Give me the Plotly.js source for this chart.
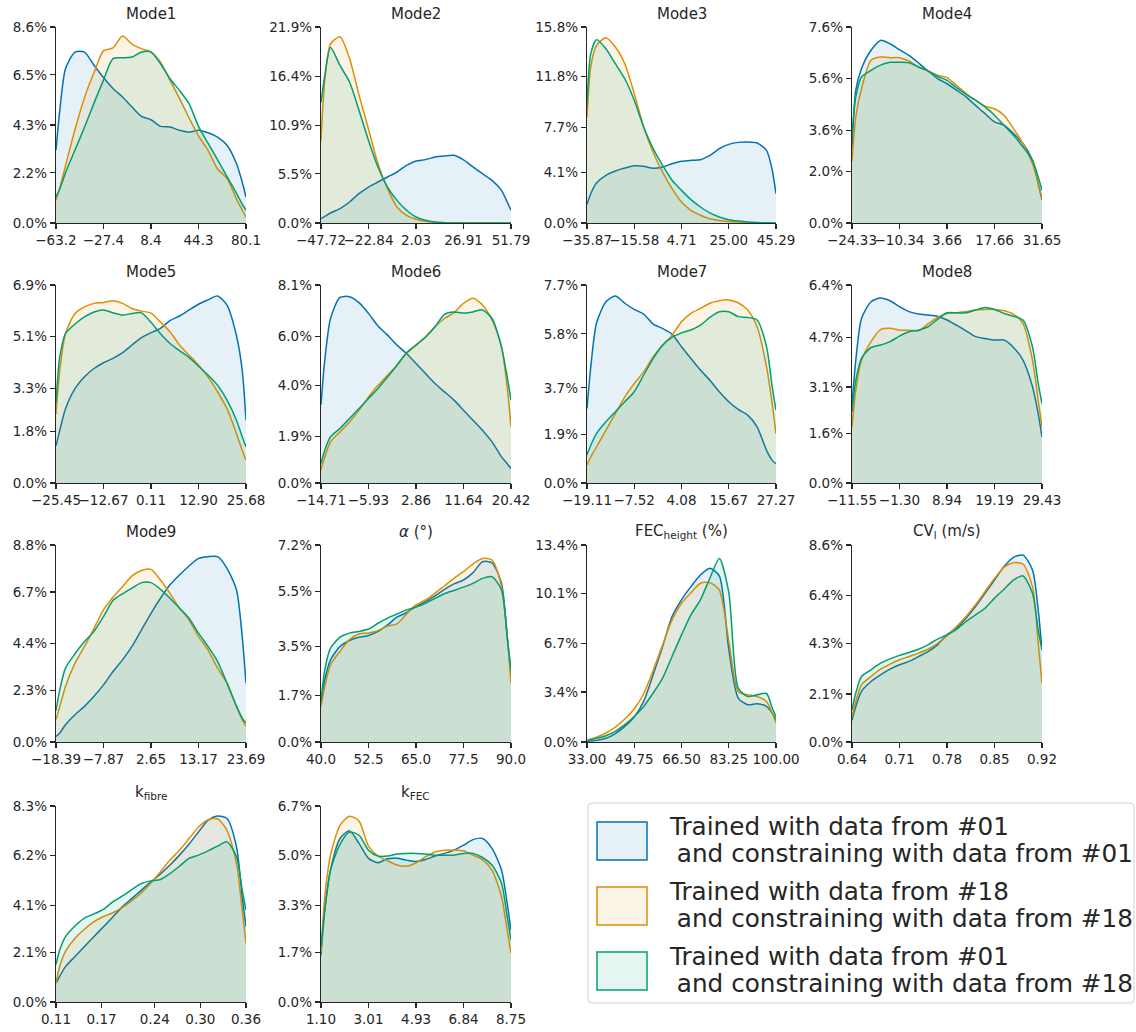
<!DOCTYPE html>
<html><head><meta charset="utf-8">
<script src="https://cdn.plot.ly/plotly-3.0.1.min.js"></script>
<style>html,body{margin:0;padding:0;background:#fff}#chart{width:1136px;height:1032px}</style>
</head><body><div id="chart"></div>
<script>
// ---------------- DATA ----------------
const panelTitles = ['Mode1','Mode2','Mode3','Mode4','Mode5','Mode6','Mode7','Mode8','Mode9',
  '<i>α</i> (°)','FEC<sub>height</sub> (%)','CV<sub>l</sub> (m/s)','k<sub>fibre</sub>','k<sub>FEC</sub>'];

const seriesNames = ['Trained with data from #01', 'Trained with data from #18', 'Trained with data from #01'];
const seriesNames2 = ['and constraining with data from #01', 'and constraining with data from #18', 'and constraining with data from #18'];

const xTickLabels = [
  ['−63.2','−27.4','8.4','44.3','80.1'],
  ['−47.72','−22.84','2.03','26.91','51.79'],
  ['−35.87','−15.58','4.71','25.00','45.29'],
  ['−24.33','−10.34','3.66','17.66','31.65'],
  ['−25.45','−12.67','0.11','12.90','25.68'],
  ['−14.71','−5.93','2.86','11.64','20.42'],
  ['−19.11','−7.52','4.08','15.67','27.27'],
  ['−11.55','−1.30','8.94','19.19','29.43'],
  ['−18.39','−7.87','2.65','13.17','23.69'],
  ['40.0','52.5','65.0','77.5','90.0'],
  ['33.00','49.75','66.50','83.25','100.00'],
  ['0.64','0.71','0.78','0.85','0.92'],
  ['0.11','0.17','0.24','0.30','0.36'],
  ['1.10','3.01','4.93','6.84','8.75']
];

const yTickValues = [
  [0,2.2,4.3,6.5,8.6],
  [0,5.5,10.9,16.4,21.9],
  [0,4.1,7.7,11.8,15.8],
  [0,2.0,3.6,5.6,7.6],
  [0,1.8,3.3,5.1,6.9],
  [0,1.9,4.0,6.0,8.1],
  [0,1.9,3.7,5.8,7.7],
  [0,1.6,3.1,4.7,6.4],
  [0,2.3,4.4,6.7,8.8],
  [0,1.7,3.5,5.5,7.2],
  [0,3.4,6.7,10.1,13.4],
  [0,2.1,4.3,6.4,8.6],
  [0,2.1,4.1,6.2,8.3],
  [0,1.7,3.3,5.0,6.7]
];

// density (%) for: a = #01/#01 (blue), b = #18/#18 (orange), c = #01/#18 (green)
const m1_x = [-63.2,-60.33,-56.04,-48.87,-41.71,-34.54,-27.38,-20.21,-13.05,-5.88,1.29,8.45,15.62,22.78,29.95,37.11,44.28,51.44,58.61,65.77,72.94,77.23,80.1];
const m1_a = [3.2,4.94,6.77,7.5,7.5,6.92,6.38,5.9,5.53,5.09,4.68,4.53,4.24,4.21,4.07,3.99,4.07,3.96,3.77,3.41,2.6,1.8,1.14];
const m1_b = [1.0,1.55,2.5,4.1,5.5,6.6,7.55,7.68,8.2,7.85,7.65,7.5,7.06,6.26,5.46,4.62,3.82,3.19,2.38,1.96,1.05,0.58,0.26];
const m1_c = [1.14,1.5,2.2,3.2,4.2,5.26,6.27,7.21,7.25,7.28,7.5,7.5,6.99,6.33,5.82,5.24,4.24,3.5,2.78,2.03,1.3,0.83,0.56];

const m2_x = [-47.72,-45.73,-42.74,-37.77,-32.79,-27.82,-22.84,-17.87,-12.89,-7.92,-2.94,2.04,7.01,11.99,16.96,21.94,26.91,31.89,36.86,41.84,46.81,49.80,51.79];
const m2_a = [0.5,0.74,1.12,1.6,2.35,3.28,4.02,4.58,5.14,5.7,6.44,6.93,7.08,7.37,7.49,7.56,7.05,6.26,5.51,4.77,3.65,2.35,1.42];
const m2_b = [9.2,16.0,20.0,20.8,18.4,14.3,10.5,6.63,3.84,1.79,0.86,0.41,0.19,0.07,0.04,0.02,0.01,0,0,0,0,0,0];
const m2_c = [13.5,16.5,19.6,17.6,15.75,12.6,9.23,6.26,4.02,2.53,1.42,0.67,0.3,0.11,0.04,0.01,0.01,0,0,0,0,0,0];

const m3_x = [-35.87,-34.25,-31.81,-27.75,-23.70,-19.64,-15.58,-11.52,-7.46,-3.41,0.65,4.71,8.77,12.83,16.88,20.94,25.0,29.06,33.12,37.17,41.23,43.67,45.29];
const m3_a = [1.5,2.36,3.22,3.84,4.19,4.43,4.62,4.57,4.41,4.51,4.78,4.97,5.05,5.1,5.45,5.99,6.34,6.5,6.53,6.45,5.86,4.25,2.36];
const m3_b = [8.5,12.6,14.3,14.94,14.19,12.84,10.43,7.74,5.7,4.1,2.77,1.69,1.02,0.62,0.35,0.21,0.13,0.08,0.05,0.03,0.02,0.01,0.01];
const m3_c = [9.5,13.65,14.78,14.05,12.84,11.63,9.9,7.74,5.99,4.65,3.44,2.63,1.88,1.29,0.81,0.48,0.27,0.16,0.08,0.04,0.02,0.01,0.01];

const m4_x = [-24.33,-23.21,-21.53,-18.73,-15.93,-13.13,-10.34,-7.54,-4.74,-1.94,0.86,3.66,6.46,9.26,12.06,14.86,17.66,20.45,23.25,26.05,28.85,30.53,31.65];
const m4_a = [2.9,5.15,5.99,6.7,7.08,6.95,6.72,6.5,6.21,5.9,5.6,5.4,5.15,4.89,4.56,4.24,3.92,3.79,3.47,3.08,2.43,1.53,0.9];
const m4_b = [2.4,4.11,5.21,6.31,6.44,6.41,6.41,6.28,6.05,5.9,5.73,5.64,5.34,5.02,4.76,4.53,4.43,4.18,3.66,3.08,2.3,1.53,0.94];
const m4_c = [3.4,4.89,5.66,5.92,6.12,6.23,6.23,6.21,6.05,5.9,5.69,5.53,5.25,4.99,4.76,4.5,4.18,3.79,3.4,2.95,2.43,1.78,1.27];

const m5_x = [-25.45,-24.43,-22.89,-20.34,-17.78,-15.22,-12.67,-10.11,-7.55,-5.0,-2.44,0.12,2.67,5.23,7.78,10.34,12.90,15.45,18.01,20.57,23.12,24.66,25.68];
const m5_a = [1.3,1.84,2.59,3.29,3.7,3.99,4.19,4.34,4.54,4.81,5.07,5.24,5.39,5.66,5.82,6.03,6.23,6.38,6.52,6.2,5.13,3.93,2.19];
const m5_b = [2.4,3.93,5.21,5.91,6.14,6.26,6.29,6.35,6.26,6.08,5.99,5.92,5.61,5.27,4.81,4.46,4.11,3.7,3.18,2.59,1.72,1.14,0.79];
const m5_c = [2.8,4.4,5.21,5.54,5.79,5.96,6.03,5.93,5.85,5.91,5.93,5.6,5.2,4.86,4.61,4.38,4.07,3.76,3.41,2.89,2.19,1.61,1.26];

const m6_x = [-14.71,-14.01,-12.95,-11.20,-9.44,-7.68,-5.93,-4.17,-2.41,-0.66,1.10,2.86,4.61,6.37,8.12,9.88,11.64,13.39,15.15,16.91,18.66,19.72,20.42];
const m6_a = [3.2,5.03,6.73,7.59,7.62,7.38,6.94,6.42,6.05,5.64,5.3,4.89,4.48,4.07,3.73,3.39,2.98,2.57,2.16,1.68,1.07,0.79,0.59];
const m6_b = [0.55,1.07,1.68,2.09,2.5,2.98,3.52,4.0,4.41,4.82,5.3,5.64,5.98,6.39,6.73,6.97,7.35,7.56,7.28,6.67,5.57,3.93,2.3];
const m6_c = [0.8,1.34,1.89,2.23,2.64,3.05,3.46,3.87,4.34,4.82,5.33,5.64,5.96,6.39,6.9,7.0,6.95,7.0,7.08,6.73,5.57,4.34,3.39];

const m7_x = [-19.11,-18.18,-16.79,-14.47,-12.15,-9.83,-7.52,-5.20,-2.88,-0.56,1.76,4.08,6.40,8.72,11.04,13.36,15.68,17.99,20.31,22.63,24.95,26.34,27.27];
const m7_a = [2.9,4.52,6.21,7.05,7.27,6.99,6.75,6.57,6.18,6.01,5.79,5.3,4.84,4.39,4.0,3.55,3.16,2.86,2.64,2.18,1.27,0.88,0.75];
const m7_b = [0.7,1.01,1.4,2.05,2.7,3.35,3.87,4.32,4.91,5.36,5.75,6.27,6.6,6.79,6.99,7.09,7.12,7.01,6.73,6.08,4.52,3.09,1.92];
const m7_c = [1.1,1.47,1.92,2.38,2.77,3.16,3.55,4.2,4.84,5.36,5.66,5.84,5.95,6.14,6.44,6.66,6.66,6.47,6.44,6.34,5.3,3.74,2.83];

const m8_x = [-11.55,-10.73,-9.50,-7.45,-5.40,-3.35,-1.31,0.74,2.79,4.84,6.89,8.94,10.99,13.04,15.09,17.14,19.19,21.23,23.28,25.33,27.38,28.61,29.43];
const m8_a = [2.5,3.97,5.32,5.86,5.98,5.89,5.7,5.54,5.46,5.43,5.39,5.27,5.1,4.92,4.73,4.67,4.62,4.62,4.38,3.97,3.11,2.24,1.49];
const m8_b = [1.8,3.0,3.97,4.57,4.96,5.0,4.94,4.94,4.92,5.14,5.35,5.48,5.5,5.54,5.59,5.61,5.61,5.57,5.46,5.16,3.97,2.68,1.81];
const m8_c = [2.3,3.32,4.03,4.38,4.46,4.57,4.75,4.89,4.94,5.05,5.29,5.5,5.5,5.5,5.59,5.67,5.61,5.48,5.39,5.27,4.4,3.22,2.57];

const m9_x = [-18.39,-17.55,-16.29,-14.18,-12.08,-9.97,-7.87,-5.77,-3.66,-1.56,0.55,2.65,4.75,6.86,8.96,11.07,13.17,15.27,17.38,19.48,21.59,22.85,23.69];
const m9_a = [0.25,0.4,0.77,1.22,1.59,2.04,2.55,3.15,3.67,4.27,5.01,5.75,6.42,7.02,7.46,7.86,8.2,8.28,8.28,7.76,6.79,4.71,2.63];
const m9_b = [1.0,1.59,2.48,3.52,4.27,5.08,5.9,6.47,6.94,7.42,7.66,7.71,7.24,6.64,5.98,5.46,4.71,4.12,3.3,2.63,1.59,1.0,0.7];
const m9_c = [1.4,2.33,3.3,3.94,4.49,4.94,5.6,6.32,6.62,6.87,7.12,7.12,6.82,6.42,5.98,5.53,4.86,4.27,3.6,2.63,1.59,1.07,0.85];

const m10_x = [40,41,42.5,45,47.5,50,52.5,55,57.5,60,62.5,65,67.5,70,72.5,75,77.5,80,82.5,85,87.5,89,90];
const m10_a = [1.4,2.27,3.0,3.49,3.71,3.83,3.89,4.04,4.28,4.56,4.73,4.95,5.13,5.34,5.58,5.78,5.92,6.19,6.59,6.55,5.8,3.86,2.4];
const m10_b = [1.3,2.03,2.82,3.31,3.74,3.95,3.98,4.07,4.24,4.32,4.68,5.01,5.19,5.44,5.71,5.98,6.23,6.51,6.71,6.65,5.68,3.86,2.15];
const m10_c = [1.5,2.64,3.43,3.83,3.98,4.04,4.13,4.34,4.53,4.68,4.83,4.93,5.07,5.25,5.42,5.54,5.66,5.8,5.98,6.04,5.56,3.86,2.64];

const m11_x = [33,34.34,36.35,39.7,43.05,46.4,49.75,53.1,56.45,59.8,63.15,66.5,69.85,73.2,76.55,79.9,83.25,86.6,89.95,93.3,96.65,98.66,100];
const m11_a = [0.05,0.07,0.11,0.25,0.57,1.06,1.7,2.76,4.57,6.5,8.53,9.67,10.57,11.36,11.82,11.3,6.3,2.99,2.54,2.6,2.42,1.97,1.52];
const m11_b = [0.1,0.2,0.32,0.61,1.02,1.56,2.26,3.28,4.87,6.61,8.31,9.44,10.16,10.8,10.84,10.34,6.9,3.44,3.21,3.1,2.76,1.97,1.29];
const m11_c = [0.1,0.16,0.25,0.43,0.72,1.18,1.74,2.42,3.33,4.35,5.82,7.29,8.65,9.67,11.14,12.49,10.2,3.67,3.1,3.21,3.3,2.31,1.74];

const m12_x = [0.64,0.6456,0.654,0.668,0.682,0.696,0.71,0.724,0.738,0.752,0.766,0.78,0.794,0.808,0.822,0.836,0.85,0.864,0.878,0.892,0.906,0.9144,0.92];
const m12_a = [0.95,1.55,2.21,2.64,2.93,3.18,3.37,3.52,3.73,3.95,4.24,4.68,4.97,5.4,5.91,6.49,7.07,7.66,8.06,8.16,7.51,5.77,4.02];
const m12_b = [1.1,1.77,2.5,2.86,3.18,3.4,3.59,3.73,3.88,4.05,4.31,4.63,5.04,5.48,5.99,6.57,7.14,7.63,7.83,7.77,6.78,4.31,2.57];
const m12_c = [1.4,2.14,2.86,3.15,3.44,3.63,3.78,3.91,4.05,4.24,4.49,4.68,4.92,5.26,5.55,5.84,6.28,6.67,7.07,7.25,6.49,4.9,4.02];

const m13_x = [0.11,0.115,0.1225,0.135,0.1475,0.16,0.1725,0.185,0.1975,0.21,0.2225,0.235,0.2475,0.26,0.2725,0.285,0.2975,0.31,0.3225,0.335,0.3475,0.355,0.36];
const m13_a = [0.8,1.1,1.5,1.93,2.35,2.77,3.19,3.61,4.04,4.39,4.74,5.09,5.42,5.8,6.22,6.68,7.2,7.69,7.88,7.77,6.57,4.46,3.19];
const m13_b = [0.8,1.51,2.14,2.7,3.08,3.4,3.62,3.78,4.01,4.29,4.63,5.04,5.52,6.01,6.43,6.92,7.41,7.72,7.76,7.27,5.87,3.9,2.49];
const m13_c = [1.6,2.21,2.77,3.22,3.55,3.73,3.92,4.25,4.49,4.77,5.02,5.13,5.19,5.44,5.75,6.08,6.22,6.4,6.6,6.78,6.15,4.74,3.9];

const m14_x = [1.1,1.253,1.4825,1.865,2.2475,2.63,3.0125,3.395,3.7775,4.16,4.5425,4.925,5.3075,5.69,6.0725,6.455,6.8375,7.22,7.6025,7.985,8.3675,8.597,8.75];
const m14_a = [1.6,3.15,4.51,5.59,5.85,5.42,4.91,4.76,4.9,4.91,4.85,4.8,4.87,4.99,5.08,5.19,5.36,5.55,5.59,5.25,4.51,3.37,2.46];
const m14_b = [1.7,3.6,5.02,6.04,6.35,6.19,5.33,4.99,4.83,4.68,4.64,4.76,4.96,5.13,5.19,5.19,5.17,5.02,4.87,4.51,3.6,2.46,1.67];
const m14_c = [1.9,3.15,4.51,5.39,5.81,5.7,5.19,4.99,4.99,5.06,5.08,5.08,5.06,5.02,5.02,5.02,5.08,5.08,4.94,4.68,4.06,2.92,2.12];

const panelX = [m1_x,m2_x,m3_x,m4_x,m5_x,m6_x,m7_x,m8_x,m9_x,m10_x,m11_x,m12_x,m13_x,m14_x];
const panelA = [m1_a,m2_a,m3_a,m4_a,m5_a,m6_a,m7_a,m8_a,m9_a,m10_a,m11_a,m12_a,m13_a,m14_a];
const panelB = [m1_b,m2_b,m3_b,m4_b,m5_b,m6_b,m7_b,m8_b,m9_b,m10_b,m11_b,m12_b,m13_b,m14_b];
const panelC = [m1_c,m2_c,m3_c,m4_c,m5_c,m6_c,m7_c,m8_c,m9_c,m10_c,m11_c,m12_c,m13_c,m14_c];

// ---------------- STYLE / LAYOUT ----------------
const lineColors = ['#0173b2', '#de8f05', '#029e73'];
const fillColors = ['rgba(1,115,178,0.1)', 'rgba(222,143,5,0.1)', 'rgba(2,158,115,0.1)'];
const FONT = 'DejaVu Sans, Verdana, sans-serif';
const INK = '#262626';
const W = 1136, H = 1032;
const colPx = [[56,246],[321,511],[587,776],[852,1042]];
const rowPx = [[27,223],[285,483],[545,742],[806,1002]];
const px = v => v / W;
const py = v => 1 - v / H;

const traces = [];
const layout = {
  width: W, height: H,
  margin: {l:0, r:0, t:0, b:0},
  paper_bgcolor: '#ffffff', plot_bgcolor: 'rgba(0,0,0,0)',
  showlegend: false,
  font: {family: FONT, color: INK},
  annotations: [], shapes: []
};

const toNum = s => parseFloat(s.replace('−', '-'));

for (let i = 0; i < panelTitles.length; i++) {
  const r = Math.floor(i / 4), c = i % 4;
  const sfx = i === 0 ? '' : String(i + 1);
  const xa = 'x' + sfx, ya = 'y' + sfx;
  const series = [panelA[i], panelB[i], panelC[i]];
  series.forEach((ys, k) => {
    traces.push({
      type: 'scatter', mode: 'lines', x: panelX[i], y: ys,
      xaxis: xa, yaxis: ya, fill: 'tozeroy', fillcolor: fillColors[k],
      line: {color: lineColors[k], width: 1.5, shape: 'spline', smoothing: 0.7},
      hoverinfo: 'skip', showlegend: false
    });
  });
  const xt = xTickLabels[i].map(toNum);
  const yt = yTickValues[i];
  const xd = [px(colPx[c][0]), px(colPx[c][1])];
  const yd = [py(rowPx[r][1]), py(rowPx[r][0])];
  const common = {
    showline: true, linecolor: INK, linewidth: 1.25, mirror: false,
    ticks: 'outside', ticklen: 5, tickwidth: 1.25, tickcolor: INK,
    showgrid: false, zeroline: false, fixedrange: true,
    tickfont: {family: FONT, size: 13.5, color: INK}, tickangle: 0, automargin: false
  };
  layout['xaxis' + sfx] = Object.assign({}, common, {
    domain: xd, anchor: ya, range: [xt[0], xt[xt.length - 1]],
    tickmode: 'array', tickvals: xt, ticktext: xTickLabels[i]
  });
  layout['yaxis' + sfx] = Object.assign({}, common, {
    domain: yd, anchor: xa, range: [0, yt[yt.length - 1]],
    tickmode: 'array', tickvals: yt, ticktext: yt.map(v => v.toFixed(1) + '%')
  });
  layout.annotations.push({
    xref: 'paper', yref: 'paper', x: (xd[0] + xd[1]) / 2, y: yd[1],
    xanchor: 'center', yanchor: 'bottom', yshift: 2, showarrow: false,
    text: panelTitles[i], font: {family: FONT, size: 15, color: INK}
  });
}

// ---------------- LEGEND (drawn box) ----------------
(function () {
  const L = 588, R = 1134, T = 803, B = 1003, rad = 4;
  const X = v => px(v), Y = v => py(v);
  const path = 'M' + X(L + rad) + ',' + Y(T) +
    ' L' + X(R - rad) + ',' + Y(T) + ' Q' + X(R) + ',' + Y(T) + ' ' + X(R) + ',' + Y(T + rad) +
    ' L' + X(R) + ',' + Y(B - rad) + ' Q' + X(R) + ',' + Y(B) + ' ' + X(R - rad) + ',' + Y(B) +
    ' L' + X(L + rad) + ',' + Y(B) + ' Q' + X(L) + ',' + Y(B) + ' ' + X(L) + ',' + Y(B - rad) +
    ' L' + X(L) + ',' + Y(T + rad) + ' Q' + X(L) + ',' + Y(T) + ' ' + X(L + rad) + ',' + Y(T) + ' Z';
  layout.shapes.push({
    type: 'path', xref: 'paper', yref: 'paper', path: path,
    line: {color: '#d0d0d0', width: 1}, fillcolor: 'rgba(255,255,255,0.8)', layer: 'above'
  });
})();
const legTops = [822, 887, 952];
for (let k = 0; k < 3; k++) {
  const t = legTops[k];
  layout.shapes.push({
    type: 'rect', xref: 'paper', yref: 'paper',
    x0: px(597), x1: px(647), y0: py(t + 38), y1: py(t),
    line: {color: lineColors[k], width: 1.5}, fillcolor: fillColors[k], layer: 'above'
  });
  layout.annotations.push({
    xref: 'paper', yref: 'paper', x: px(667), y: py(t + 4), xanchor: 'left', yanchor: 'middle',
    showarrow: false, text: seriesNames[k], font: {family: FONT, size: 24.7, color: INK}
  });
  layout.annotations.push({
    xref: 'paper', yref: 'paper', x: px(667), y: py(t + 31), xanchor: 'left', yanchor: 'middle',
    showarrow: false, text: '\u00a0' + seriesNames2[k], font: {family: FONT, size: 24.7, color: INK}
  });
}

Plotly.newPlot('chart', traces, layout, {staticPlot: true, displayModeBar: false});
</script></body></html>
